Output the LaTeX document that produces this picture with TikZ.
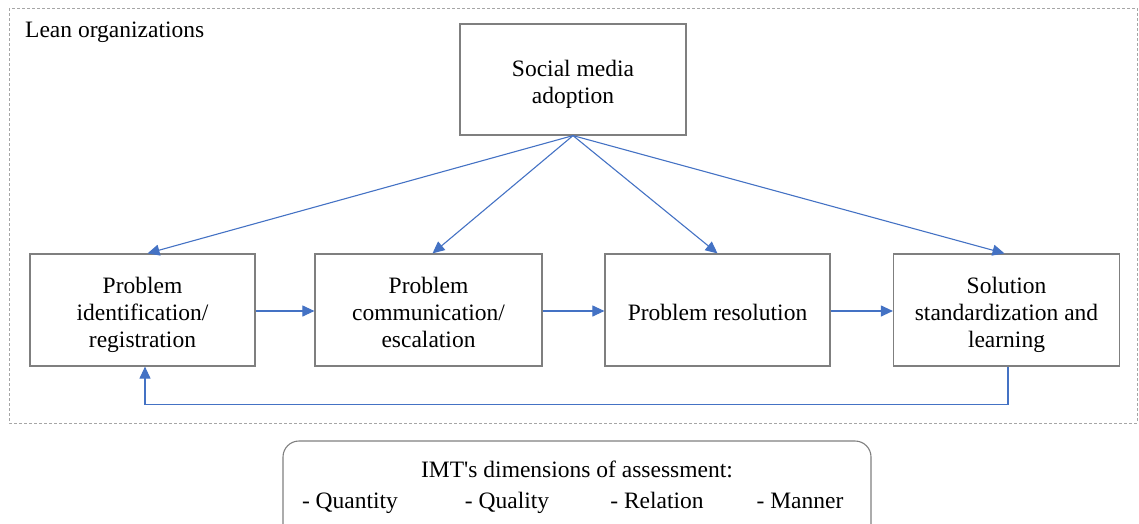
\documentclass[tikz,border=0pt]{standalone}
\usepackage{fontspec}
\setmainfont{Liberation Serif}[Ligatures=TeXOff]
\usetikzlibrary{arrows.meta}
\definecolor{arrowblue}{HTML}{4472C4}
\definecolor{boxgray}{HTML}{7F7F7F}
\definecolor{dashgray}{HTML}{A6A6A6}
\newcommand{\mybt}[1]{\raisebox{-5pt}[\height][\depth]{\begin{tabular}{@{}c@{}}#1\end{tabular}}}
\begin{document}
\begin{tikzpicture}[x=1pt,y=-1pt,
  every node/.style={font=\fontsize{23.5}{27}\selectfont},
  procbox/.style={draw=boxgray, line width=1.2pt, inner sep=0pt, align=center, minimum height=112pt},
  flow/.style={draw=arrowblue, line width=1.1pt, -{Triangle[length=12pt,width=11pt]}},
  plain/.style={inner sep=0pt, anchor=base}]
\useasboundingbox (0,0) rectangle (1139,524);
\draw[dashgray, dashed, line width=0.9pt, dash pattern=on 3pt off 2pt] (9,8) rectangle (1137,423);
\node[plain, anchor=base west] (lean) at (25,38) {Lean organizations};
\node[procbox, minimum width=226pt, minimum height=111pt] (soc) at (573,79.5) {\mybt{Social media\\adoption}};
\node[procbox, minimum width=225pt] (b1) at (142.5,310) {\mybt{Problem\\identification/\\registration}};
\node[procbox, minimum width=227pt] (b2) at (428.5,310) {\mybt{Problem\\communication/\\escalation}};
\node[procbox, minimum width=225pt] (b3) at (717.5,310) {\mybt{Problem resolution}};
\node[procbox, minimum width=226pt] (b4) at (1006.5,310) {\mybt{Solution\\standardization and\\learning}};
\draw[flow] (soc.south) -- ([xshift=5pt]b1.north);
\draw[flow] (soc.south) -- ([xshift=4pt]b2.north);
\draw[flow] (soc.south) -- (b3.north);
\draw[flow] (soc.south) -- ([xshift=-2pt]b4.north);
\draw[flow] ([yshift=-1pt]b1.east) -- ([yshift=-1pt]b2.west);
\draw[flow] ([yshift=-1pt]b2.east) -- ([yshift=-1pt]b3.west);
\draw[flow] ([yshift=-1pt]b3.east) -- ([yshift=-1pt]b4.west);
\draw[flow] ([xshift=1.5pt]b4.south) -- ++(0,38) -| ([xshift=2.5pt]b1.south);
\node[draw=boxgray, line width=1.1pt, rounded corners=16pt, minimum width=588pt, minimum height=110pt, inner sep=0pt] (imt) at (577,496) {};
\node[plain] (imtt) at (577,477) {IMT's dimensions of assessment:};
\node[plain] (q1) at (350,508) {- Quantity};
\node[plain] (q2) at (507,508) {- Quality};
\node[plain] (q3) at (657,508) {- Relation};
\node[plain] (q4) at (800,508) {- Manner};
\end{tikzpicture}
\end{document}
